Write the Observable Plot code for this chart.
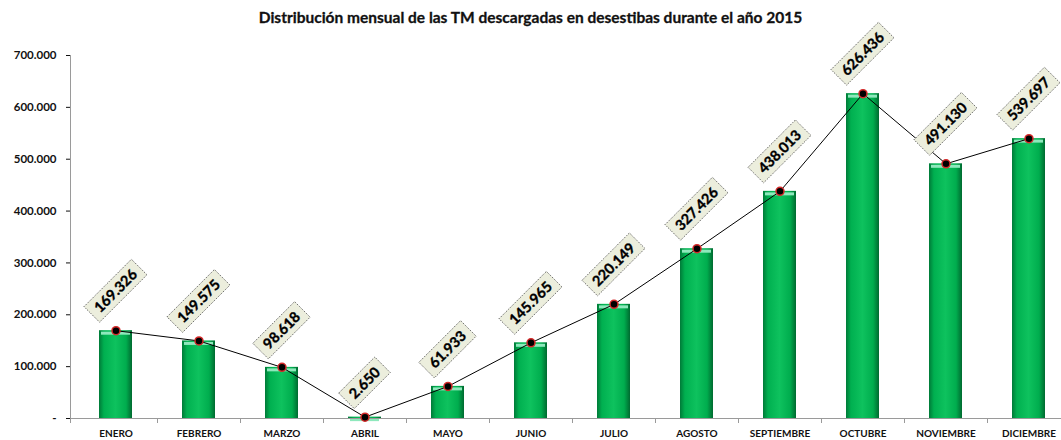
<!DOCTYPE html>
<html><head><meta charset="utf-8">
<script src="https://cdn.jsdelivr.net/npm/d3@7"></script>
<script src="https://cdn.jsdelivr.net/npm/@observablehq/plot@0.6"></script>
<style>
body{margin:0;background:#fff;font-family:Lato,sans-serif;overflow:hidden;}
#title{height:30px;box-sizing:border-box;padding-top:8px;text-align:center;font-family:Lato,sans-serif;font-weight:bold;font-size:15.5px;color:#111;line-height:18px;-webkit-text-stroke:0.3px #111;}
#chart svg{overflow:visible;}
</style></head><body>
<div id="title">Distribución mensual de las TM descargadas en desestibas durante el año 2015</div>
<div id="chart"></div>
<script>
const months = ["ENERO","FEBRERO","MARZO","ABRIL","MAYO","JUNIO","JULIO","AGOSTO","SEPTIEMBRE","OCTUBRE","NOVIEMBRE","DICIEMBRE"];
const values = [169326,149575,98618,2650,61933,145965,220149,327426,438013,626436,491130,539697];
const yTicks = [0,100000,200000,300000,400000,500000,600000,700000];

const data = months.map((m, i) => ({month: m, value: values[i]}));
const fmt = d3.formatLocale({decimal: ",", thousands: ".", grouping: [3], currency: ["", ""]}).format(",");
const tickLabel = d => d === 0 ? "-" : fmt(d);

function axisLines(index, scales, vals, dims) {
  const x = scales.x, y = scales.y;
  const g = d3.create("svg:g").attr("stroke", "#9a9a9a").attr("stroke-width", 1);
  const y0 = y(0);
  g.append("line").attr("x1", dims.marginLeft + 0.5).attr("x2", dims.marginLeft + 0.5)
    .attr("y1", y(yTicks[yTicks.length - 1])).attr("y2", y0 + 5);
  const step = x(months[1]) - x(months[0]);
  for (let i = 1; i <= months.length; i++) {
    const bx = Math.round(x(months[0]) + i * step) + 0.5;
    g.append("line").attr("x1", bx).attr("x2", bx).attr("y1", y0).attr("y2", y0 + 5);
  }
  return g.node();
}

function valueLabels(index, scales) {
  const x = scales.x, y = scales.y;
  const bw = x.bandwidth ? x.bandwidth() : (x(months[1]) - x(months[0]));
  const g = d3.create("svg:g");
  for (const d of data) {
    const cx = x(d.month) + bw / 2, cy = y(d.value);
    const txt = fmt(d.value);
    const L = 8 * txt.length + 11, T = 22;
    const h = (L + T) / Math.SQRT2;
    const gy = cy - 8 - h / 2;
    const lg = g.append("g").attr("transform", `translate(${cx},${gy}) rotate(-45)`);
    lg.append("rect").attr("x", -L / 2).attr("y", -T / 2).attr("width", L).attr("height", T)
      .attr("fill", "#ECEEDD").attr("stroke", "#555").attr("stroke-width", 0.9).attr("stroke-dasharray", "1.2,1.3");
    lg.append("text").attr("text-anchor", "middle").attr("dy", "0.36em")
      .attr("font-family", "Lato, sans-serif").attr("font-weight", "bold").attr("font-size", 14.5)
      .attr("fill", "#000").attr("stroke", "#000").attr("stroke-width", 0.35).text(txt);
  }
  return g.node();
}

const chart = Plot.plot({
  width: 1061, height: 410,
  marginLeft: 70, marginRight: 0, marginTop: 25, marginBottom: 22,
  style: {fontFamily: "Lato, sans-serif", background: "white", overflow: "visible"},
  x: {domain: months, range: [71, 1073], padding: 0, label: null},
  y: {domain: [0, 700000], label: null},
  marks: [
    Plot.barY(data, {x: "month", y: "value", fill: "url(#gbar)", insetLeft: 25, insetRight: 25}),
    Plot.tickY(data, {x: "month", y: "value", dy: 2.5, stroke: "#8EE8BC", strokeWidth: 3, insetLeft: 27, insetRight: 27}),
    Plot.ruleY([0], {stroke: "#9a9a9a"}),
    axisLines,
    Plot.axisY({ticks: yTicks, tickFormat: tickLabel, tickSize: 4, tickPadding: 10, fontSize: 11.5, fontWeight: "bold", color: "#111", label: null}),
    Plot.axisX({tickSize: 0, tickPadding: 11, fontSize: 10, fontWeight: "bold", color: "#111", label: null}),
    Plot.line(data, {x: "month", y: "value", stroke: "black", strokeWidth: 1}),
    Plot.dot(data, {x: "month", y: "value", r: 4, fill: "black", stroke: "#D42A2A", strokeWidth: 1.5}),
    valueLabels
  ]
});

const defs = document.createElementNS("http://www.w3.org/2000/svg", "defs");
defs.innerHTML = `<linearGradient id="gbar" x1="0" x2="1" y1="0" y2="0">
  <stop offset="0" stop-color="#007A38"/>
  <stop offset="0.15" stop-color="#00B050"/>
  <stop offset="0.5" stop-color="#0EC25E"/>
  <stop offset="0.82" stop-color="#00AD4E"/>
  <stop offset="1" stop-color="#006A30"/>
</linearGradient>`;
chart.prepend(defs);
document.getElementById("chart").appendChild(chart);
</script>
</body></html>
